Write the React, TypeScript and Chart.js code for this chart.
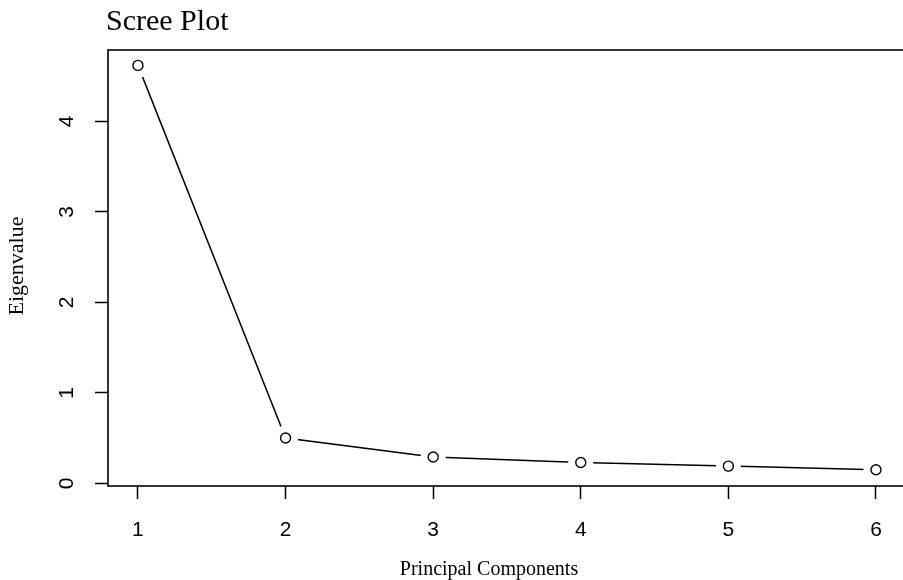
import React, { useEffect, useRef } from "react";
import { Chart, registerables } from "chart.js";

Chart.register(...registerables);

const components = [1, 2, 3, 4, 5, 6];
const eigenvalues = [4.62, 0.5, 0.29, 0.23, 0.19, 0.15];
const xTicks = [1, 2, 3, 4, 5, 6];
const yTicks = [0, 1, 2, 3, 4];
const titleText = "Scree Plot";
const xTitle = "Principal Components";
const yTitle = "Eigenvalue";

const SERIF = '"Liberation Serif", "Times New Roman", serif';
const SANS = '"Liberation Sans", Arial, sans-serif';

const textPlugin = {
  id: "rtext",
  afterDraw(chart: any) {
    const ctx = chart.ctx;
    const ca = chart.chartArea;
    ctx.save();
    ctx.fillStyle = "#000";
    ctx.font = `30px ${SERIF}`;
    ctx.textAlign = "left";
    ctx.textBaseline = "alphabetic";
    ctx.fillText(titleText, 106, 30);
    ctx.font = `20px ${SERIF}`;
    ctx.textAlign = "center";
    ctx.fillText(xTitle, 489, 575);
    ctx.font = `22px ${SERIF}`;
    ctx.translate(23, 266);
    ctx.rotate(-Math.PI / 2);
    ctx.textAlign = "center";
    ctx.fillText(yTitle, 0, 0);
    ctx.restore();
    ctx.save();
    ctx.strokeStyle = "#000";
    ctx.lineWidth = 1.6;
    ctx.strokeRect(ca.left, ca.top, ca.right - ca.left, ca.bottom - ca.top);
    ctx.restore();
  },
};

const bgPlugin = {
  id: "bg",
  beforeDraw(chart: any) {
    const ctx = chart.ctx;
    ctx.save();
    ctx.fillStyle = "#fff";
    ctx.fillRect(0, 0, chart.width, chart.height);
    ctx.restore();
  },
};

export default function App() {
  const ref = useRef<HTMLCanvasElement | null>(null);
  useEffect(() => {
    if (!ref.current) return;
    const pts = components.map((c, i) => ({ x: c, y: eigenvalues[i] }));
    const chart = new Chart(ref.current, {
      type: "line",
      data: {
        datasets: [
          {
            data: pts,
            showLine: false,
            pointRadius: 5,
            pointBackgroundColor: "#fff",
            pointBorderColor: "#000",
            pointBorderWidth: 1.4,
            order: 0,
          },
          {
            data: pts,
            borderColor: "#000",
            borderWidth: 1.5,
            pointRadius: 12.5,
            pointBackgroundColor: "#fff",
            pointBorderColor: "#fff",
            pointBorderWidth: 0,
            tension: 0,
            order: 1,
          },
        ],
      },
      options: {
        responsive: false,
        animation: false,
        layout: { autoPadding: false, padding: { top: 50, right: 4.5, bottom: 0, left: 0 } },
        plugins: {
          legend: { display: false },
          title: { display: false },
          tooltip: { enabled: false },
        },
        events: [],
        scales: {
          x: {
            type: "linear",
            min: 0.797,
            max: 6.2,
            afterBuildTicks: (s: any) => {
              s.ticks = xTicks.map((v) => ({ value: v }));
            },
            afterFit: (s: any) => {
              s.height = 94;
            },
            border: { display: false },
            grid: {
              display: true,
              drawOnChartArea: false,
              drawTicks: true,
              tickLength: 13,
              tickWidth: 1.5,
              tickColor: "#000",
            },
            ticks: {
              color: "#000",
              font: { family: SANS, size: 21 },
              padding: 19,
              maxRotation: 0,
              minRotation: 0,
              callback: (v: any) => String(v),
            },
          },
          y: {
            type: "linear",
            min: -0.03,
            max: 4.79,
            afterBuildTicks: (s: any) => {
              s.ticks = yTicks.map((v) => ({ value: v }));
            },
            afterFit: (s: any) => {
              s.width = 108;
            },
            border: { display: false },
            grid: {
              display: true,
              drawOnChartArea: false,
              drawTicks: true,
              tickLength: 13,
              tickWidth: 1.5,
              tickColor: "#000",
            },
            ticks: {
              color: "#000",
              font: { family: SANS, size: 21 },
              padding: 22,
              crossAlign: "center",
              minRotation: 90,
              maxRotation: 90,
              callback: (v: any) => String(v),
            },
          },
        },
      },
      plugins: [bgPlugin, textPlugin],
    } as any);
    return () => chart.destroy();
  }, []);
  return (
    <div
      style={{
        position: "fixed",
        left: 0,
        top: 0,
        width: 903,
        height: 580,
        overflow: "hidden",
        background: "#fff",
      }}
    >
      <canvas ref={ref} width={910} height={580} style={{ display: "block" }} />
    </div>
  );
}
